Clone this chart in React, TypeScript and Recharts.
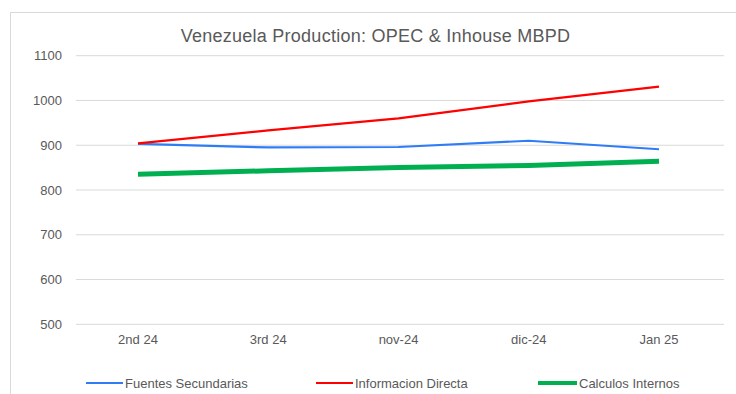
import React from "react";
import { LineChart, Line, XAxis, YAxis, CartesianGrid } from "recharts";

const categories = ["2nd 24", "3rd 24", "nov-24", "dic-24", "Jan 25"];
const fuentesSecundarias = [903, 895, 896, 910, 891];
const informacionDirecta = [904, 933, 960, 998, 1031];
const calculosInternos = [835, 843, 850, 855, 864];
const yTicks = [500, 600, 700, 800, 900, 1000, 1100];

const data = categories.map((c, i) => ({
  name: c,
  fuentes: fuentesSecundarias[i],
  informacion: informacionDirecta[i],
  calculos: calculosInternos[i],
}));

const series = [
  { key: "fuentes", label: "Fuentes Secundarias", color: "#2f7df6", width: 2.2 },
  { key: "informacion", label: "Informacion Directa", color: "#ff0000", width: 2.2 },
  { key: "calculos", label: "Calculos Internos", color: "#00b050", width: 5 },
];

const legendX = [86, 316, 538];
const legendLen = [37, 37, 39];

const FONT = "'Liberation Sans', Arial, sans-serif";

export default function App() {
  return (
    <div style={{ position: "absolute", left: 0, top: 0, width: 736, height: 394, background: "#fff", fontFamily: FONT, overflow: "hidden" }}>
      <div style={{ position: "absolute", left: 10, top: 12, width: 800, height: 500, border: "1px solid #d9d9d9", boxSizing: "border-box" }} />
      <div style={{ position: "absolute", left: 0, top: 26, width: 751, textAlign: "center", fontSize: 18, letterSpacing: 0.25, color: "#595959", whiteSpace: "nowrap" }}>
        Venezuela Production: OPEC &amp; Inhouse MBPD
      </div>
      <div style={{ position: "absolute", left: 0, top: 0 }}>
        <LineChart width={736} height={394} data={data} margin={{ top: 55.7, right: 12, left: 0, bottom: 39.7 }}>
          <CartesianGrid vertical={false} stroke="#d9d9d9" strokeWidth={1} />
          <XAxis
            dataKey="name"
            axisLine={false}
            tickLine={false}
            height={30}
            tickMargin={4}
            padding={{ left: 62, right: 65 }}
            tick={{ fontSize: 13, fill: "#595959", fontFamily: FONT }}
          />
          <YAxis
            domain={[500, 1100]}
            ticks={yTicks}
            width={76}
            axisLine={false}
            tickLine={false}
            tickMargin={8}
            tick={{ fontSize: 13, fill: "#595959", fontFamily: FONT }}
          />
          {series.map((s) => (
            <Line
              key={s.key}
              type="linear"
              dataKey={s.key}
              stroke={s.color}
              strokeWidth={s.width}
              dot={false}
              isAnimationActive={false}
            />
          ))}
        </LineChart>
      </div>
      {series.map((s, i) => (
        <div key={s.key} style={{ position: "absolute", left: legendX[i], top: 375, height: 16, display: "flex", alignItems: "center", fontSize: 13, color: "#595959", whiteSpace: "nowrap" }}>
          <div style={{ width: legendLen[i], height: s.width > 3 ? 4.5 : 2.5, background: s.color, marginRight: 2 }} />
          <span>{s.label}</span>
        </div>
      ))}
    </div>
  );
}
